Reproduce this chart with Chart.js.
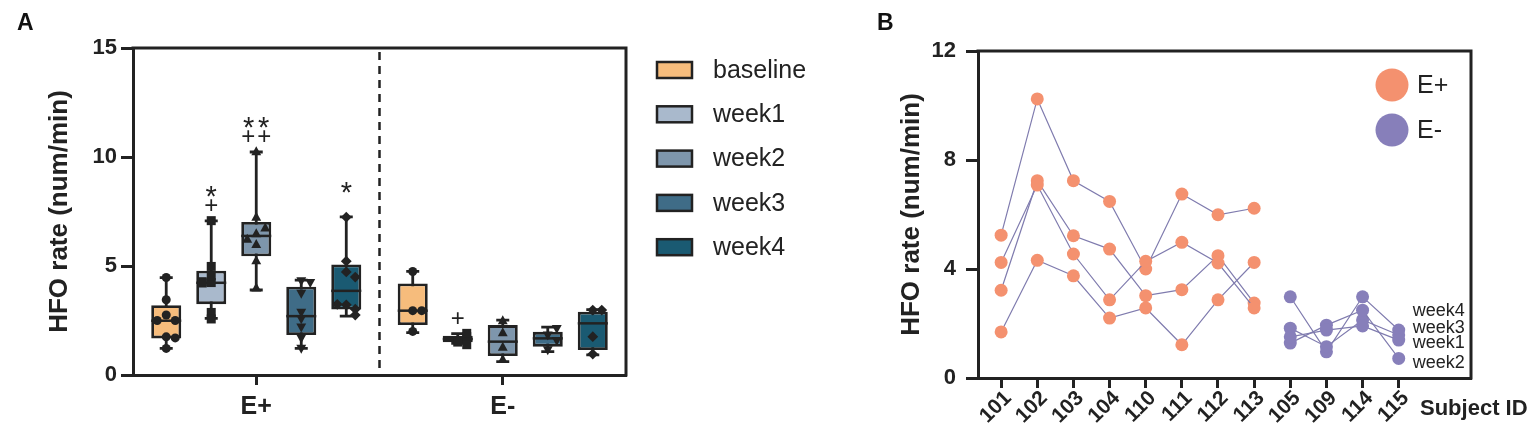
<!DOCTYPE html>
<html>
<head>
<meta charset="utf-8">
<script src="https://cdn.jsdelivr.net/npm/chart.js@4.4.1/dist/chart.umd.min.js"></script>
<style>
  html, body { margin: 0; padding: 0; background: #fff; }
  body { width: 1535px; height: 436px; position: relative; overflow: hidden; }
  #panelA { position: absolute; left: 0; top: 0; }
  #panelB { position: absolute; left: 860px; top: 0; }
</style>
</head>
<body>
<canvas id="panelA" width="850" height="436"></canvas>
<canvas id="panelB" width="675" height="436"></canvas>
<script>
// ---- panel A: box plots, [E+, E-] per timepoint ----
const groups = ['E+', 'E-'];
const timepoints = ['baseline', 'week1', 'week2', 'week3', 'week4'];
const boxMin    = [[1.22, 1.94], [2.6, 1.45], [3.9, 0.61], [1.22, 1.07], [2.7, 0.92]];
const boxQ1     = [[1.68, 2.29], [3.25, 1.5], [5.45, 0.87], [1.83, 1.3], [3.0, 1.15]];
const boxMedian = [[2.49, 2.95], [4.23, 1.65], [6.38, 1.53], [2.7, 1.68], [3.86, 2.37]];
const boxQ3     = [[3.2, 4.2], [4.78, 1.8], [7.02, 2.29], [4.05, 1.98], [5.07, 2.9]];
const boxMax    = [[4.47, 4.75], [7.07, 1.9], [10.23, 2.52], [4.35, 2.2], [7.25, 3.0]];
const starMarks = [['', ''], ['*', ''], ['**', ''], ['', ''], ['*', '']];
const plusMarks = [['', ''], ['+', '+'], ['++', ''], ['', ''], ['', '']];
const baselinePlus = [4.47, 3.45, 2.75, 2.5, 2.5, 1.75, 1.7, 1.22];
const baselineMinus = [4.75, 2.95, 2.95, 2.0];

// ---- panel B: HFO rate per subject and week ----
const subjectsPlus = ['101', '102', '103', '104', '110', '111', '112', '113'];
const subjectsMinus = ['105', '109', '114', '115'];
const ePlusWeek1 = [4.24, 7.08, 4.55, 2.87, 4.28, 4.98, 4.22, 2.57];
const ePlusWeek2 = [5.24, 10.24, 7.24, 6.48, 4.0, 6.75, 5.99, 6.23];
const ePlusWeek3 = [1.69, 4.32, 3.75, 2.2, 2.57, 1.22, 2.87, 4.24];
const ePlusWeek4 = [3.22, 7.24, 5.22, 4.73, 3.02, 3.24, 4.49, 2.75];
const eMinusWeek1 = [1.51, 1.76, 1.91, 1.39];
const eMinusWeek2 = [1.28, 1.94, 2.49, 0.72];
const eMinusWeek3 = [1.83, 1.15, 2.13, 1.58];
const eMinusWeek4 = [2.98, 0.96, 2.98, 1.76];
const yTicksA = [0, 5, 10, 15];
const yTicksB = [0, 4, 8, 12];

const boxColors = ['#F6BC7C', '#A9B9CC', '#7E96AC', '#3F6C87', '#1A5A72'];
const ink = '#222';
const font = "'Liberation Sans', Arial, sans-serif";
Chart.defaults.font.family = font;
Chart.defaults.color = ink;

const pointsA = [
    [baselinePlus, baselineMinus],
    [ePlusWeek1, eMinusWeek1],
    [ePlusWeek2, eMinusWeek2],
    [ePlusWeek3, eMinusWeek3],
    [ePlusWeek4, eMinusWeek4]
];
const markers = ['circle', 'square', 'triangle', 'triangleDown', 'diamond'];

function drawMarker(ctx, kind, x, y, r) {
    ctx.beginPath();
    if (kind === 'circle') {
        ctx.arc(x, y, r, 0, Math.PI * 2);
    } else if (kind === 'square') {
        ctx.rect(x - r, y - r, r * 2, r * 2);
    } else if (kind === 'triangle') {
        ctx.moveTo(x, y - r * 1.2); ctx.lineTo(x + r * 1.1, y + r * 0.8); ctx.lineTo(x - r * 1.1, y + r * 0.8);
    } else if (kind === 'triangleDown') {
        ctx.moveTo(x, y + r * 1.2); ctx.lineTo(x + r * 1.1, y - r * 0.8); ctx.lineTo(x - r * 1.1, y - r * 0.8);
    } else {
        ctx.moveTo(x, y - r * 1.2); ctx.lineTo(x + r * 1.2, y); ctx.lineTo(x, y + r * 1.2); ctx.lineTo(x - r * 1.2, y);
    }
    ctx.closePath();
    ctx.fill();
}

function frame(ctx, area) {
    ctx.strokeStyle = ink;
    ctx.lineWidth = 3;
    ctx.beginPath();
    ctx.moveTo(area.left - 1.5, area.top);
    ctx.lineTo(area.right, area.top);
    ctx.lineTo(area.right, area.bottom + 1.5);
    ctx.stroke();
}

const boxPlotExtras = {
    id: 'boxPlotExtras',
    beforeDatasetsDraw(chart) {
        const {ctx, chartArea, scales: {x, y}} = chart;
        ctx.save();
        // dashed divider between E+ and E-
        const xMid = (x.getPixelForValue(0) + x.getPixelForValue(1)) / 2;
        ctx.strokeStyle = ink;
        ctx.lineWidth = 2.5;
        ctx.setLineDash([8, 6]);
        ctx.beginPath();
        ctx.moveTo(xMid, chartArea.top + 4);
        ctx.lineTo(xMid, chartArea.bottom - 2);
        ctx.stroke();
        ctx.setLineDash([]);
        // whiskers + caps
        ctx.lineWidth = 2.8;
        chart.data.datasets.forEach((ds, i) => {
            chart.getDatasetMeta(i).data.forEach((bar, j) => {
                const top = y.getPixelForValue(boxMax[i][j]);
                const bottom = y.getPixelForValue(boxMin[i][j]);
                ctx.beginPath();
                ctx.moveTo(bar.x, top); ctx.lineTo(bar.x, bottom);
                ctx.moveTo(bar.x - 6.5, top); ctx.lineTo(bar.x + 6.5, top);
                ctx.moveTo(bar.x - 6.5, bottom); ctx.lineTo(bar.x + 6.5, bottom);
                ctx.stroke();
            });
        });
        ctx.restore();
    },
    afterDatasetsDraw(chart) {
        const {ctx, chartArea, scales: {y}} = chart;
        ctx.save();
        chart.data.datasets.forEach((ds, i) => {
            chart.getDatasetMeta(i).data.forEach((bar, j) => {
                const half = bar.width / 2;
                const med = y.getPixelForValue(boxMedian[i][j]);
                ctx.strokeStyle = ink;
                ctx.lineWidth = 2.5;
                ctx.beginPath();
                ctx.moveTo(bar.x - half, med); ctx.lineTo(bar.x + half, med);
                ctx.stroke();
                // individual values, spread sideways where they overlap
                ctx.fillStyle = ink;
                const placed = [];
                const shifts = [0, 9, -9, 4, -4, 12];
                pointsA[i][j].forEach(v => {
                    const n = placed.filter(p => Math.abs(p - v) < 0.3).length;
                    placed.push(v);
                    drawMarker(ctx, markers[i], bar.x + shifts[n % shifts.length], y.getPixelForValue(v), 4.5);
                });
                // significance marks above the upper whisker
                const capY = y.getPixelForValue(boxMax[i][j]);
                ctx.textAlign = 'center';
                ctx.textBaseline = 'alphabetic';
                const plus = plusMarks[i][j];
                if (plus) {
                    ctx.font = '24px ' + font;
                    [...plus].forEach((c, k) => ctx.fillText(c, bar.x + (k - (plus.length - 1) / 2) * 16, capY - 16 + 8.5));
                }
                const star = starMarks[i][j];
                if (star) {
                    ctx.font = '29px ' + font;
                    [...star].forEach((c, k) => ctx.fillText(c, bar.x + (k - (star.length - 1) / 2) * 15, capY - 32 + 17));
                }
            });
        });
        frame(ctx, chartArea);
        // legend to the right of the frame
        ctx.font = '25px ' + font;
        ctx.textAlign = 'left';
        ctx.textBaseline = 'middle';
        chart.data.datasets.forEach((ds, i) => {
            const cy = chartArea.top + 22 + i * 44.3;
            const bx = chartArea.right + 31;
            ctx.fillStyle = ds.backgroundColor;
            ctx.fillRect(bx, cy - 8, 35, 16);
            ctx.strokeStyle = ink;
            ctx.lineWidth = 2.5;
            ctx.strokeRect(bx, cy - 8, 35, 16);
            ctx.fillStyle = ink;
            ctx.fillText(ds.label, bx + 56, cy + 1);
        });
        ctx.restore();
    }
};

new Chart(document.getElementById('panelA'), {
    type: 'bar',
    data: {
        labels: groups,
        datasets: timepoints.map((t, i) => ({
            label: t,
            data: groups.map((g, j) => [boxQ1[i][j], boxQ3[i][j]]),
            backgroundColor: boxColors[i],
            borderColor: ink,
            borderWidth: 2.8,
            borderSkipped: false,
            categoryPercentage: 0.913,
            barPercentage: 0.667
        }))
    },
    options: {
        responsive: false,
        animation: false,
        events: [],
        layout: {padding: {left: 17, top: 10, right: 224, bottom: 0}},
        plugins: {
            legend: {display: false},
            tooltip: {enabled: false},
            title: {
                display: true, text: 'A', align: 'start', color: '#111',
                font: {size: 23, weight: 'bold'}, padding: {top: 0, bottom: 10.4}
            }
        },
        scales: {
            x: {
                grid: {display: true, drawOnChartArea: false, offset: false, tickLength: 10, tickColor: ink, tickWidth: 3},
                border: {color: ink, width: 3},
                ticks: {font: {size: 25, weight: 'bold'}, padding: 7, color: ink},
                afterFit: s => { s.height = 61; }
            },
            y: {
                min: 0, max: 15,
                afterBuildTicks: s => { s.ticks = yTicksA.map(v => ({value: v})); },
                grid: {drawOnChartArea: false, tickLength: 12, tickColor: ink, tickWidth: 3},
                border: {color: ink, width: 3},
                ticks: {font: {size: 22, weight: 'bold'}, padding: 4, color: ink},
                title: {display: true, text: 'HFO rate (num/min)', font: {size: 26, weight: 'bold'}, padding: {top: 27, bottom: 0}, color: ink},
                afterFit: s => { s.width = 116; }
            }
        }
    },
    plugins: [boxPlotExtras]
});

// ---- panel B ----
const subjects = subjectsPlus.concat(subjectsMinus);
const lineColor = '#7F7BAE';
const plusColor = '#F4916F';
const minusColor = '#877FBA';

function series(values, start, color, label) {
    return {
        label: label,
        data: values.map((v, k) => ({x: start + k, y: v})),
        borderColor: lineColor,
        borderWidth: 1.2,
        pointRadius: 6.5,
        pointHoverRadius: 6.5,
        pointBackgroundColor: color,
        pointBorderWidth: 0,
        fill: false,
        tension: 0
    };
}

const subjectExtras = {
    id: 'subjectExtras',
    afterDatasetsDraw(chart) {
        const {ctx, chartArea, scales: {x, y}} = chart;
        ctx.save();
        frame(ctx, chartArea);
        // group legend inside the frame
        [['E+', plusColor], ['E-', minusColor]].forEach(([name, color], k) => {
            const cy = chartArea.top + 34 + k * 45;
            ctx.fillStyle = color;
            ctx.beginPath();
            ctx.arc(chartArea.right - 79, cy, 16.5, 0, Math.PI * 2);
            ctx.fill();
            ctx.fillStyle = ink;
            ctx.font = '25px ' + font;
            ctx.textAlign = 'left';
            ctx.textBaseline = 'middle';
            ctx.fillText(name, chartArea.right - 54, cy + 1);
        });
        // week labels next to the last subject
        const labelX = x.getPixelForValue(subjects.length) + 14;
        ctx.font = '18px ' + font;
        [['week4', 2.46], ['week3', 1.83], ['week1', 1.28], ['week2', 0.55]].forEach(([t, v]) => {
            ctx.fillText(t, labelX, y.getPixelForValue(v));
        });
        ctx.font = 'bold 22px ' + font;
        ctx.fillText('Subject ID', chartArea.right - 51, chartArea.bottom + 31);
        ctx.restore();
    }
};

new Chart(document.getElementById('panelB'), {
    type: 'line',
    data: {
        datasets: [
            series(ePlusWeek1, 1, plusColor, 'E+ week1'),
            series(ePlusWeek2, 1, plusColor, 'E+ week2'),
            series(ePlusWeek3, 1, plusColor, 'E+ week3'),
            series(ePlusWeek4, 1, plusColor, 'E+ week4'),
            series(eMinusWeek1, 9, minusColor, 'E- week1'),
            series(eMinusWeek2, 9, minusColor, 'E- week2'),
            series(eMinusWeek3, 9, minusColor, 'E- week3'),
            series(eMinusWeek4, 9, minusColor, 'E- week4')
        ]
    },
    options: {
        responsive: false,
        animation: false,
        events: [],
        layout: {padding: {left: 17, top: 10, right: 64, bottom: 0}},
        plugins: {
            legend: {display: false},
            tooltip: {enabled: false},
            title: {
                display: true, text: 'B', align: 'start', color: '#111',
                font: {size: 23, weight: 'bold'}, padding: {top: 0, bottom: 13.4}
            }
        },
        scales: {
            x: {
                type: 'linear', min: 0.36, max: 14,
                afterBuildTicks: s => { s.ticks = subjects.map((id, k) => ({value: k + 1})); },
                grid: {drawOnChartArea: false, tickLength: 10, tickColor: ink, tickWidth: 3},
                border: {color: ink, width: 3},
                ticks: {
                    font: {size: 21, weight: 'bold'}, color: ink, padding: -2, labelOffset: 7,
                    minRotation: 45, maxRotation: 45,
                    callback: v => subjects[v - 1]
                },
                afterFit: s => { s.height = 58; }
            },
            y: {
                min: 0, max: 12,
                afterBuildTicks: s => { s.ticks = yTicksB.map(v => ({value: v})); },
                grid: {drawOnChartArea: false, tickLength: 12, tickColor: ink, tickWidth: 3},
                border: {color: ink, width: 3},
                ticks: {font: {size: 22, weight: 'bold'}, padding: 10, color: ink},
                title: {display: true, text: 'HFO rate (num/min)', font: {size: 26, weight: 'bold'}, padding: {top: 19, bottom: 0}, color: ink},
                afterFit: s => { s.width = 101; }
            }
        }
    },
    plugins: [subjectExtras]
});
</script>
</body>
</html>
